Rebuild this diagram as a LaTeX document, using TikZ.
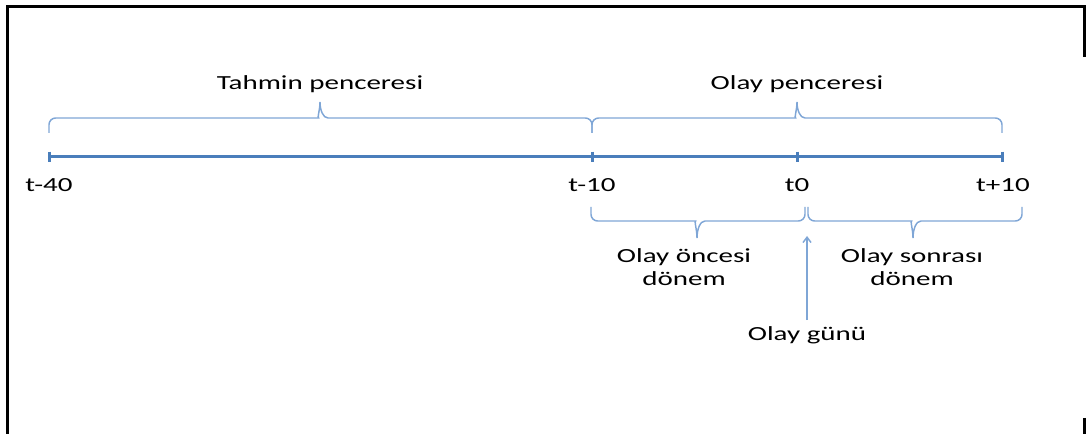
\documentclass[tikz,border=0pt]{standalone}
\usepackage{fontspec}
\newfontfamily\lblfont[FakeStretch=1.45]{Carlito}
\usetikzlibrary{arrows.meta}
\definecolor{axisblue}{HTML}{4A7EBB}
\definecolor{bracecol}{HTML}{7FA6D6}
\newcommand{\winbrace}[6]{%
  \draw[wbrace] (#1,#4) [rounded corners=5pt] -- (#1,#5) -- ({#2-8},#5) [sharp corners]
    .. controls ({#2-3},#5) and (#2,{(#5+#6)/2}) .. (#2,#6)
    .. controls (#2,{(#5+#6)/2}) and ({#2+3},#5) .. ({#2+8},#5)
    [rounded corners=5pt] -- (#3,#5) -- (#3,#4);}

\begin{document}
\begin{tikzpicture}[x=0.75pt, y=-0.75pt,
    axis/.style={axisblue, line width=2.25pt},
    wbrace/.style={bracecol, line width=1.1pt},
    lbl/.style={font=\lblfont\fontsize{15}{17.25}\selectfont, text=black, align=center, inner sep=2pt},
    frame/.style={black, line width=2.25pt}]
    \useasboundingbox (0,0) rectangle (1089,434);

    % frame
    \draw[frame] (7,434) -- (7,7) -- (1084,7) -- (1084,57);
    \draw[frame] (1084,418) -- (1084,434);

    % time axis
    \coordinate (tm40) at (49,157);
    \coordinate (tm10) at (592,157);
    \coordinate (t0) at (797,157);
    \coordinate (tp10) at (1002,157);
    \draw[axis] (tm40) -- (tp10);
    \foreach \c in {tm40,tm10,t0,tp10}
        \draw[axis] ([yshift=4pt]\c) -- ([yshift=-4pt]\c);

    \node[lbl, anchor=base] (lm40) at (49,192) {t-40};
    \node[lbl, anchor=base] (lm10) at (592,192) {t-10};
    \node[lbl, anchor=base] (l0) at (797,192) {t0};
    \node[lbl, anchor=base] (lp10) at (1003,192) {t+10};

    % windows
    \winbrace{49}{320}{592}{133}{118}{102}
    \winbrace{592}{797}{1002}{133}{118}{102}
    \node[lbl, anchor=base] (tahmin) at (320,90) {Tahmin penceresi};
    \node[lbl, anchor=base] (olay) at (797,90) {Olay penceresi};

    % periods
    \winbrace{591}{697}{805}{207}{221}{238}
    \winbrace{808}{913}{1022}{207}{221}{238}
    \node[lbl] (once) at (684,267) {Olay öncesi\\dönem};
    \node[lbl] (sonra) at (912,267) {Olay sonrası\\dönem};

    % event day
    \coordinate (evt) at (807,236);
    \node[lbl, anchor=base] (gunu) at (807,341) {Olay günü};
    \draw[bracecol, line width=1.1pt, -{Straight Barb[length=4pt, width=6pt]}, shorten <=3pt] (gunu.north) -- (evt);
\end{tikzpicture}
\end{document}
